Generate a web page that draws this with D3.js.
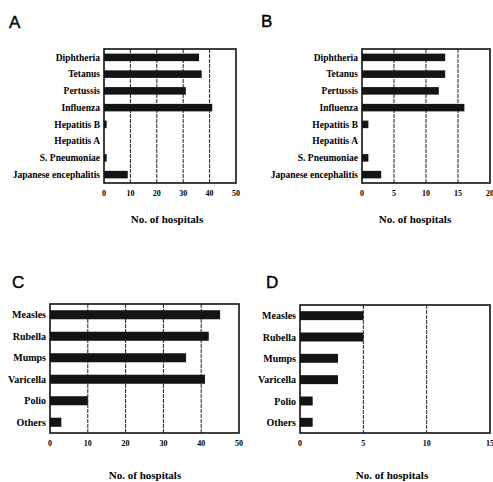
<!DOCTYPE html>
<html>
<head>
<meta charset="utf-8">
<script src="https://cdn.jsdelivr.net/npm/d3@7"></script>
<style>
  body { margin: 0; background: #fff; }
  .lbl { font-family: "Liberation Serif", "DejaVu Serif", serif; font-weight: bold; }
  .letter { font-family: "Liberation Sans", Arial, sans-serif; }
</style>
</head>
<body>
<div id="chart"></div>
<script>
// panels A and B
var vaccinesAB = ["Diphtheria", "Tetanus", "Pertussis", "Influenza", "Hepatitis B", "Hepatitis A", "S. Pneumoniae", "Japanese encephalitis"];
var valuesA = [36, 37, 31, 41, 1, 0, 1, 9];
var valuesB = [13, 13, 12, 16, 1, 0, 1, 3];
var ticksA = [0, 10, 20, 30, 40, 50];
var ticksB = [0, 5, 10, 15, 20];

// panels C and D
var vaccinesCD = ["Measles", "Rubella", "Mumps", "Varicella", "Polio", "Others"];
var valuesC = [45, 42, 36, 41, 10, 3];
var valuesD = [5, 5, 3, 3, 1, 1];
var ticksC = [0, 10, 20, 30, 40, 50];
var ticksD = [0, 5, 10, 15];

var svg = d3.select("#chart").append("svg")
  .attr("width", 493)
  .attr("height", 482);

function panel(opt) {
  var g = svg.append("g");
  var x = d3.scaleLinear()
    .domain([0, opt.ticks[opt.ticks.length - 1]])
    .range([opt.left, opt.right]);
  var y = d3.scaleBand()
    .domain(opt.cats)
    .range([opt.top, opt.bottom])
    .paddingInner(opt.pad)
    .paddingOuter(opt.pad / 2);

  // grid
  g.selectAll(".grid")
    .data(opt.ticks.slice(1, -1))
    .enter().append("line")
    .attr("x1", function(d) { return x(d); })
    .attr("x2", function(d) { return x(d); })
    .attr("y1", opt.top)
    .attr("y2", opt.bottom)
    .attr("stroke", "#222")
    .attr("stroke-width", 1)
    .attr("stroke-dasharray", "4,1");

  g.selectAll(".bar")
    .data(opt.values)
    .enter().append("rect")
    .attr("x", x(0))
    .attr("y", function(d, i) { return y(opt.cats[i]); })
    .attr("width", function(d) { return x(d) - x(0); })
    .attr("height", y.bandwidth())
    .attr("fill", "#141414");

  g.append("rect")
    .attr("x", opt.left)
    .attr("y", opt.top)
    .attr("width", opt.right - opt.left)
    .attr("height", opt.bottom - opt.top)
    .attr("fill", "none")
    .attr("stroke", "#111")
    .attr("stroke-width", 1.6);

  g.selectAll(".cat")
    .data(opt.cats)
    .enter().append("text")
    .attr("class", "lbl")
    .attr("x", opt.left - 4)
    .attr("y", function(d) { return y(d) + y.bandwidth() / 2; })
    .attr("dy", "0.35em")
    .attr("text-anchor", "end")
    .attr("font-size", opt.catSize)
    .text(function(d) { return d; });

  g.selectAll(".tick")
    .data(opt.ticks)
    .enter().append("text")
    .attr("class", "lbl")
    .attr("x", function(d) { return x(d); })
    .attr("y", opt.bottom + 13)
    .attr("text-anchor", "middle")
    .attr("font-size", 8)
    .text(function(d) { return d; });

  g.append("text")
    .attr("class", "lbl")
    .attr("x", opt.titleX)
    .attr("y", opt.titleY)
    .attr("text-anchor", "middle")
    .attr("font-size", 11)
    .text("No. of hospitals");

  g.append("text")
    .attr("class", "letter")
    .attr("x", opt.letterX)
    .attr("y", opt.letterY)
    .attr("font-size", 17)
    .attr("stroke", "#000")
    .attr("stroke-width", 0.4)
    .text(opt.letter);
}

panel({ letter: "A", letterX: 9, letterY: 28, cats: vaccinesAB, values: valuesA, ticks: ticksA,
  left: 104, right: 236, top: 49, bottom: 183, pad: 0.55, catSize: 9.5, titleX: 167, titleY: 223 });
panel({ letter: "B", letterX: 261, letterY: 27, cats: vaccinesAB, values: valuesB, ticks: ticksB,
  left: 362, right: 490, top: 49, bottom: 183, pad: 0.55, catSize: 9.5, titleX: 415, titleY: 223 });
panel({ letter: "C", letterX: 12, letterY: 288, cats: vaccinesCD, values: valuesC, ticks: ticksC,
  left: 50, right: 239, top: 304, bottom: 433, pad: 0.58, catSize: 10, titleX: 145, titleY: 479 });
panel({ letter: "D", letterX: 266, letterY: 288, cats: vaccinesCD, values: valuesD, ticks: ticksD,
  left: 300, right: 490, top: 305, bottom: 433, pad: 0.58, catSize: 10, titleX: 392, titleY: 479 });
</script>
</body>
</html>
